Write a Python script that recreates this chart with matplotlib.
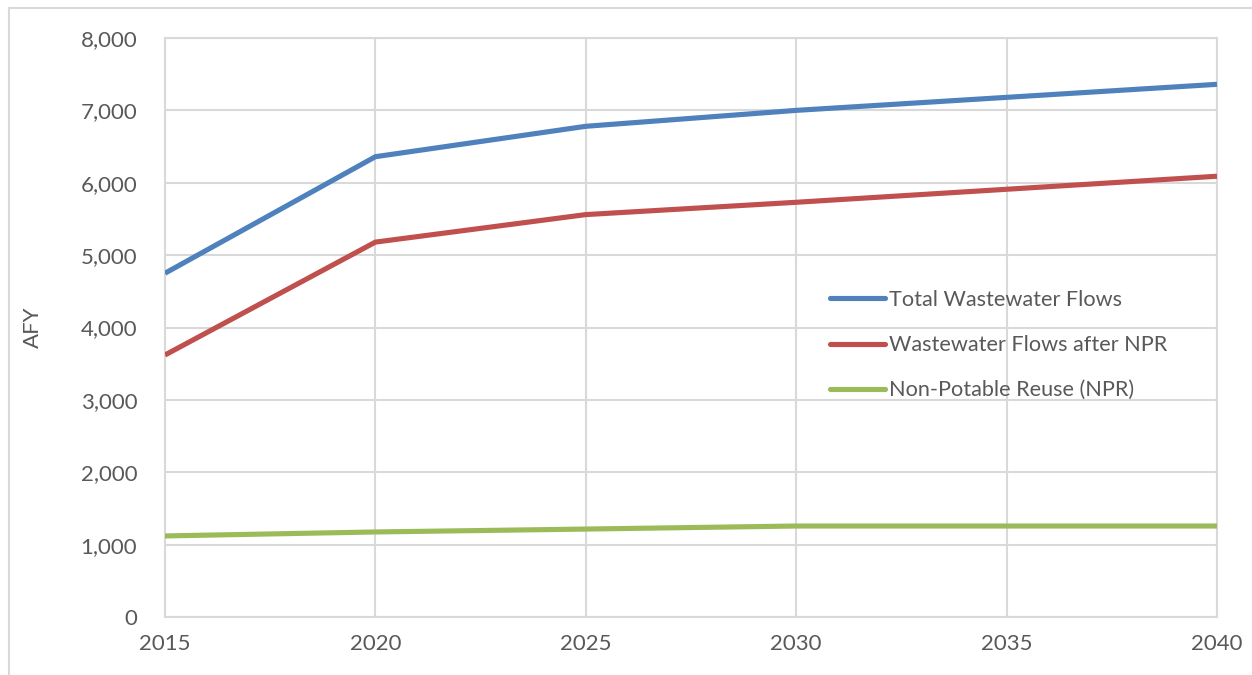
import matplotlib
matplotlib.use("Agg")
import matplotlib.pyplot as plt
from matplotlib.lines import Line2D
from matplotlib.ticker import FuncFormatter

years = [2015, 2020, 2025, 2030, 2035, 2040]
total_flows = [4750, 6360, 6780, 7000, 7180, 7360]
flows_after_npr = [3620, 5180, 5560, 5730, 5910, 6090]
npr = [1120, 1175, 1215, 1257, 1257, 1257]

series_labels = ["Total Wastewater Flows", "Wastewater Flows after NPR", "Non-Potable Reuse (NPR)"]
series_colors = ["#4F81BD", "#C0504D", "#9BBB59"]

plt.rcParams["font.family"] = ["Lato", "DejaVu Sans"]
text_color = "#595959"
grid_color = "#D9D9D9"

fig = plt.figure(figsize=(12.52, 6.75), dpi=100)
fig.patch.set_facecolor("white")

# thin chart-area frame (left and top edges visible)
fig.add_artist(Line2D([9 / 1252, 9 / 1252], [0, 1 - 8 / 675], transform=fig.transFigure,
                      color=grid_color, lw=1.5))
fig.add_artist(Line2D([9 / 1252, 1], [1 - 8 / 675, 1 - 8 / 675], transform=fig.transFigure,
                      color=grid_color, lw=1.5))

ax = fig.add_axes([165 / 1252, 1 - 617 / 675, (1217 - 165) / 1252, (617 - 38) / 675])

for vals, lab, col in zip([total_flows, flows_after_npr, npr], series_labels, series_colors):
    ax.plot(years, vals, color=col, lw=3.7, label=lab, solid_capstyle="butt", zorder=3)

ax.set_xlim(2015, 2040)
ax.set_ylim(0, 8000)
ax.set_xticks(years)
ax.set_yticks(range(0, 8001, 1000))
ax.yaxis.set_major_formatter(FuncFormatter(lambda v, p: f"{int(v):,}"))

ax.grid(True, color=grid_color, lw=1.5, zorder=0)
ax.set_axisbelow(True)
for s in ax.spines.values():
    s.set_color(grid_color)
    s.set_linewidth(1.5)

ax.tick_params(axis="both", length=0, labelsize=16, labelcolor=text_color)
ax.tick_params(axis="x", pad=12)
ax.tick_params(axis="y", pad=20)

fig.text(33 / 1252, 1 - 327 / 675, "AFY", rotation=90, ha="center", va="center",
         fontsize=16, color=text_color)

leg = ax.legend(loc="upper left", bbox_to_anchor=((830 - 165) / 1052, (617 - 290) / 579),
                frameon=False, fontsize=15.6, handlelength=2.55, handletextpad=0.19,
                labelspacing=1.16, borderpad=0, borderaxespad=0)
for t in leg.get_texts():
    t.set_color(text_color)
for h in leg.get_lines():
    h.set_solid_capstyle("round")

fig.savefig("out.png", dpi=100, facecolor="white")
